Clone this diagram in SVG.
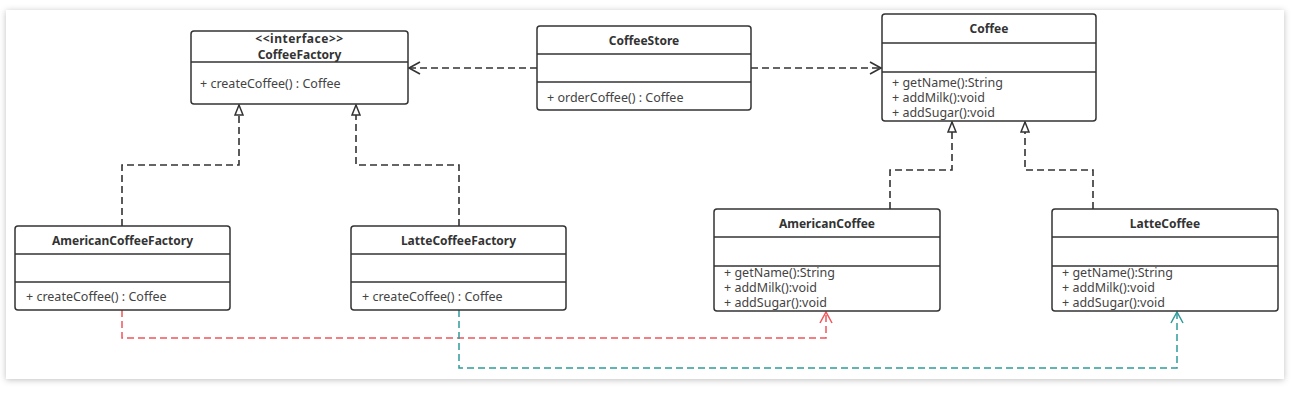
<svg xmlns="http://www.w3.org/2000/svg" width="1298" height="403" viewBox="0 0 1298 403">
<defs>
<style>
.box{fill:#fff;stroke:#333;stroke-width:1.5}
.div{stroke:#333;stroke-width:1.3}
.t{font-family:"Noto Sans","Open Sans",sans-serif;font-size:12px;fill:#333;font-weight:bold;text-anchor:middle}
.m{font-family:"Noto Sans","Open Sans",sans-serif;font-size:12.5px;fill:#444}
.c{fill:none;stroke:#333;stroke-width:1.6;stroke-dasharray:7 4}
.red{fill:none;stroke:#f0555a;stroke-width:1.5;stroke-dasharray:7 4}
.teal{fill:none;stroke:#2f9a9a;stroke-width:1.5;stroke-dasharray:7 4}
</style>
<filter id="sh" x="-5%" y="-10%" width="110%" height="120%">
<feDropShadow dx="0" dy="1" stdDeviation="3" flood-color="#000" flood-opacity="0.25"/>
</filter>
<marker id="open" markerWidth="14" markerHeight="14" refX="12" refY="7" orient="auto" markerUnits="userSpaceOnUse">
<path d="M1,1 L12,7 L1,13" fill="none" stroke="#333" stroke-width="1.6"/>
</marker>
<marker id="openR" markerWidth="14" markerHeight="14" refX="12" refY="7" orient="auto" markerUnits="userSpaceOnUse">
<path d="M1,1 L12,7 L1,13" fill="none" stroke="#f0555a" stroke-width="1.5"/>
</marker>
<marker id="openT" markerWidth="14" markerHeight="14" refX="12" refY="7" orient="auto" markerUnits="userSpaceOnUse">
<path d="M1,1 L12,7 L1,13" fill="none" stroke="#2f9a9a" stroke-width="1.5"/>
</marker>
<marker id="tri" markerWidth="14" markerHeight="12" refX="11" refY="5" orient="auto" markerUnits="userSpaceOnUse">
<path d="M1,1 L11,5 L1,9 Z" fill="#fff" stroke="#333" stroke-width="1.5"/>
</marker>
</defs>
<rect x="0" y="0" width="1298" height="403" fill="#fff"/>
<rect x="6" y="10" width="1278" height="369" fill="#fff" filter="url(#sh)"/>

<g id="connectors">
<path class="c" d="M537,68 H409" marker-end="url(#open)"/>
<path class="c" d="M751,68 H881" marker-end="url(#open)"/>
<path class="c" d="M122,226 V165 H239 V105" marker-end="url(#tri)"/>
<path class="c" d="M459,226 V165 H356 V105" marker-end="url(#tri)"/>
<path class="c" d="M890,209 V170 H952 V122" marker-end="url(#tri)"/>
<path class="c" d="M1093,209 V170 H1025 V122" marker-end="url(#tri)"/>
<path class="red" d="M122,310 V338 H826 V312" marker-end="url(#openR)"/>
<path class="teal" d="M459,310 V368 H1177 V312" marker-end="url(#openT)"/>
</g>

<g id="CoffeeFactory">
<rect class="box" x="191" y="31" width="217" height="73" rx="3"/>
<line class="div" x1="191" y1="62" x2="408" y2="62"/>
<text class="t" x="299.5" y="42.5" font-size="11.5" letter-spacing="0.5">&lt;&lt;interface&gt;&gt;</text>
<text class="t" x="299.5" y="58.5">CoffeeFactory</text>
<text class="m" x="200" y="87.5">+ createCoffee() : Coffee</text>
</g>

<g id="CoffeeStore">
<rect class="box" x="537" y="26" width="214" height="84" rx="3"/>
<line class="div" x1="537" y1="54" x2="751" y2="54"/>
<line class="div" x1="537" y1="82" x2="751" y2="82"/>
<text class="t" x="644" y="45">CoffeeStore</text>
<text class="m" x="547" y="101.5">+ orderCoffee() : Coffee</text>
</g>

<g id="Coffee">
<rect class="box" x="882" y="14" width="214" height="107" rx="3"/>
<line class="div" x1="882" y1="43" x2="1096" y2="43"/>
<line class="div" x1="882" y1="72" x2="1096" y2="72"/>
<text class="t" x="989" y="33">Coffee</text>
<text class="m" x="892" y="86.5">+ getName():String</text>
<text class="m" x="892" y="101.5">+ addMilk():void</text>
<text class="m" x="892" y="116.5">+ addSugar():void</text>
</g>

<g id="AmericanCoffeeFactory">
<rect class="box" x="15" y="226" width="215" height="84" rx="3"/>
<line class="div" x1="15" y1="254" x2="230" y2="254"/>
<line class="div" x1="15" y1="282" x2="230" y2="282"/>
<text class="t" x="122.5" y="245">AmericanCoffeeFactory</text>
<text class="m" x="26" y="300.5">+ createCoffee() : Coffee</text>
</g>

<g id="LatteCoffeeFactory">
<rect class="box" x="351" y="226" width="215" height="84" rx="3"/>
<line class="div" x1="351" y1="254" x2="566" y2="254"/>
<line class="div" x1="351" y1="282" x2="566" y2="282"/>
<text class="t" x="458.5" y="245">LatteCoffeeFactory</text>
<text class="m" x="362" y="300.5">+ createCoffee() : Coffee</text>
</g>

<g id="AmericanCoffee">
<rect class="box" x="714" y="209" width="226" height="102" rx="3"/>
<line class="div" x1="714" y1="237" x2="940" y2="237"/>
<line class="div" x1="714" y1="266" x2="940" y2="266"/>
<text class="t" x="827" y="228">AmericanCoffee</text>
<text class="m" x="724" y="276.5">+ getName():String</text>
<text class="m" x="724" y="291.5">+ addMilk():void</text>
<text class="m" x="724" y="306.5">+ addSugar():void</text>
</g>

<g id="LatteCoffee">
<rect class="box" x="1052" y="209" width="226" height="102" rx="3"/>
<line class="div" x1="1052" y1="237" x2="1278" y2="237"/>
<line class="div" x1="1052" y1="266" x2="1278" y2="266"/>
<text class="t" x="1165" y="228">LatteCoffee</text>
<text class="m" x="1062" y="276.5">+ getName():String</text>
<text class="m" x="1062" y="291.5">+ addMilk():void</text>
<text class="m" x="1062" y="306.5">+ addSugar():void</text>
</g>
</svg>
